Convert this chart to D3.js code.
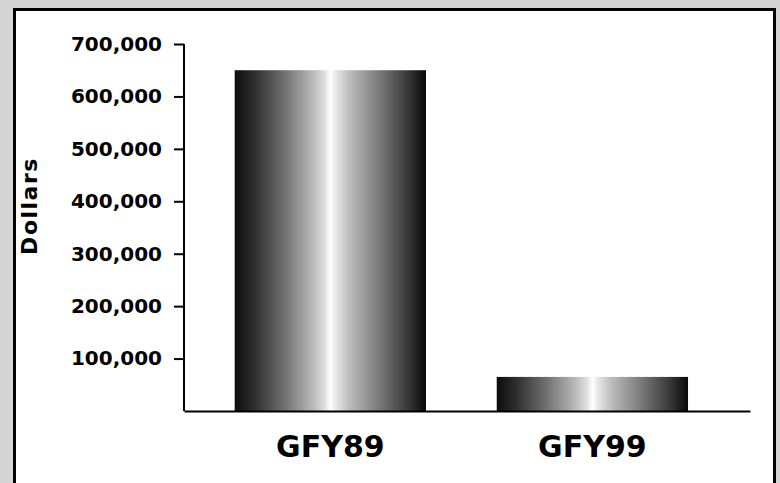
<!DOCTYPE html>
<html>
<head>
<meta charset="utf-8">
<script src="https://cdn.jsdelivr.net/npm/d3@7/dist/d3.min.js"></script>
<style>
  html, body { margin: 0; padding: 0; background: #d5d5d5; }
  svg { display: block; }
  text { font-family: "DejaVu Sans", sans-serif; font-weight: bold; fill: #000; }
</style>
</head>
<body>
<svg id="chart" width="780" height="483"></svg>
<script>
const categories = ["GFY89", "GFY99"];
const values = [650000, 65000];
const yTicks = [100000, 200000, 300000, 400000, 500000, 600000, 700000];
const yLabel = "Dollars";

const W = 780, H = 483;
const svg = d3.select("#chart");

// background + panel
svg.append("rect").attr("x", 0).attr("y", 0).attr("width", W).attr("height", H).attr("fill", "#d5d5d5");
svg.append("rect")
  .attr("x", 14.5).attr("y", 9.5).attr("width", 760).attr("height", 500)
  .attr("fill", "#ffffff").attr("stroke", "#000").attr("stroke-width", 3);

// gradient
const defs = svg.append("defs");
const grad = defs.append("linearGradient").attr("id", "barGrad")
  .attr("x1", "0%").attr("x2", "100%").attr("y1", "0%").attr("y2", "0%");
[[0, "#0c0c0c"], [0.1, "#2e2e2e"], [0.25, "#6c6c6c"], [0.4, "#b4b4b4"], [0.47, "#dedede"],
 [0.5, "#ffffff"], [0.53, "#e6e6e6"], [0.6, "#bcbcbc"], [0.75, "#7c7c7c"], [0.9, "#3a3a3a"], [1, "#080808"]]
  .forEach(([o, c]) => grad.append("stop").attr("offset", o).attr("stop-color", c));

const x = d3.scaleBand().domain(categories).range([184, 750])
  .paddingInner(0.27).paddingOuter(0.215).align(0.45);
const y = d3.scaleLinear().domain([0, 700000]).range([411, 44]);

// bars
svg.append("g").selectAll("rect").data(categories).join("rect")
  .attr("x", d => x(d))
  .attr("y", (d, i) => y(values[i]))
  .attr("width", x.bandwidth())
  .attr("height", (d, i) => y(0) - y(values[i]))
  .attr("fill", "url(#barGrad)");

// y axis
const yAxis = svg.append("g").attr("transform", "translate(184,0)")
  .call(d3.axisLeft(y).tickValues(yTicks).tickFormat(d3.format(",")).tickSize(10).tickSizeOuter(0).tickPadding(12));
yAxis.select(".domain").attr("stroke", "#000").attr("stroke-width", 2)
  .attr("d", `M0,${y(700000)}V${y(0)}`);
yAxis.selectAll(".tick line").attr("stroke", "#000").attr("stroke-width", 2);
yAxis.selectAll(".tick text").attr("font-size", 20).attr("font-family", "DejaVu Sans").attr("font-weight", "bold").attr("fill", "#000");

// x axis
const xAxis = svg.append("g").attr("transform", "translate(0,411)")
  .call(d3.axisBottom(x).tickSize(0).tickSizeOuter(0));
xAxis.select(".domain").attr("stroke", "#000").attr("stroke-width", 2);
xAxis.selectAll(".tick text").attr("font-size", 30).attr("font-family", "DejaVu Sans").attr("font-weight", "bold")
  .attr("fill", "#000").attr("y", 46).attr("dy", null);

// y label
svg.append("text")
  .attr("transform", "translate(37,206) rotate(-90)")
  .attr("text-anchor", "middle")
  .attr("font-size", 22)
  .attr("letter-spacing", 1.5)
  .text(yLabel);
</script>
</body>
</html>
